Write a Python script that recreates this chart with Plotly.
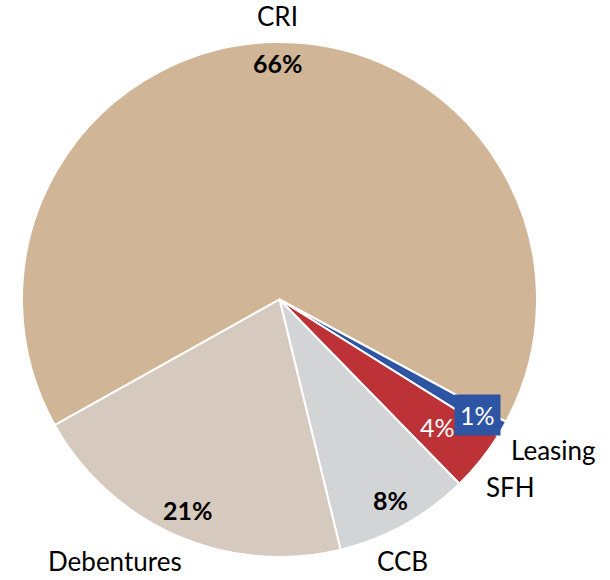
import math
import plotly.graph_objects as go

labels = ["CRI", "Leasing", "SFH", "CCB", "Debentures"]
values = [66.0, 1.0, 3.8, 8.5, 20.7]
pct_text = ["66%", "1%", "4%", "8%", "21%"]
colors = ["#D0B597", "#2E54A4", "#BC3237", "#D3D4D6", "#D6C9BE"]

START_ANGLE = 240.8  # degrees clockwise from 12 o'clock where first slice begins
FONT = "Lato, 'Open Sans', Arial, sans-serif"

fig = go.Figure(go.Pie(
    labels=labels, values=values, sort=False, direction="clockwise",
    rotation=START_ANGLE, marker=dict(colors=colors, line=dict(color="white", width=2)),
    textinfo="none", hoverinfo="label+percent", showlegend=False,
    domain=dict(x=[0, 1], y=[0, 1]),
))

# label placement derived from the data (mid-angle of each slice)
total = sum(values)
mids = []
acc = 0.0
for v in values:
    mids.append(START_ANGLE + (acc + v / 2) / total * 360.0)
    acc += v

def pos(mid_deg, k):
    a = math.radians(mid_deg)
    return 0.5 + 0.5 * k * math.sin(a), 0.5 + 0.5 * k * math.cos(a)

# style per label: (radius factor, xanchor, yanchor, xshift, yshift)
name_style = {
    "CRI": (1.03, "center", "bottom", 0, 0),
    "Leasing": (1.05, "left", "top", -4, 4),
    "SFH": (1.05, "left", "top", -6, 0),
    "CCB": (1.08, "center", "top", -12, 0),
    "Debentures": (1.03, "right", "top", 10, 0),
}
pct_style = {
    "66%": (0.92, True, "black", None),
    "1%": (0.89, False, "white", "#2E54A4"),
    "4%": (0.79, False, "white", None),
    "8%": (0.89, True, "black", None),
    "21%": (0.89, True, "black", None),
}

annotations = []
for lab, pct, m in zip(labels, pct_text, mids):
    k, xa, ya, xs, ys = name_style[lab]
    x, y = pos(m, k)
    annotations.append(dict(x=x, y=y, xref="paper", yref="paper", text=lab,
                            showarrow=False, xanchor=xa, yanchor=ya, xshift=xs, yshift=ys,
                            font=dict(family=FONT, size=26, color="black")))
    k, bold, col, bg = pct_style[pct]
    x, y = pos(m, k)
    ann = dict(x=x, y=y, xref="paper", yref="paper",
               text=("<b>%s</b>" % pct) if bold else pct,
               showarrow=False, xanchor="center", yanchor="middle",
               font=dict(family=FONT, size=25, color=col))
    if bg:
        ann.update(bgcolor=bg, borderpad=5)
    annotations.append(ann)

fig.update_layout(
    width=610, height=580,
    margin=dict(l=22, r=73, t=42, b=23),
    paper_bgcolor="white", plot_bgcolor="white",
    annotations=annotations,
)

fig.write_html("out.html", config={"displayModeBar": False},
               post_script="document.body.style.margin='0px';")
